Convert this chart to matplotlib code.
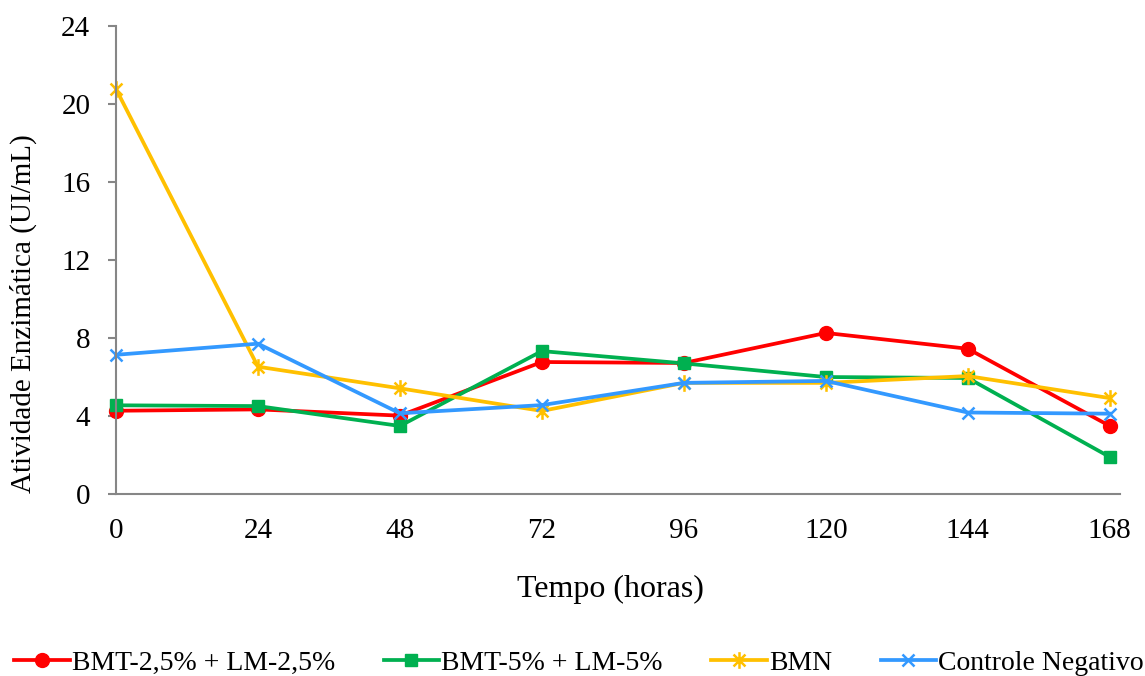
import matplotlib
matplotlib.use("Agg")
import matplotlib.pyplot as plt
from matplotlib.path import Path

# time points (hours) and enzyme activity (UI/mL) per treatment
horas = [0, 24, 48, 72, 96, 120, 144, 168]
bmt_25 = [4.27, 4.34, 4.02, 6.77, 6.72, 8.26, 7.45, 3.49]
bmt_5 = [4.55, 4.51, 3.49, 7.33, 6.70, 6.00, 5.95, 1.90]
bmn = [20.77, 6.53, 5.42, 4.26, 5.70, 5.70, 6.05, 4.92]
controle = [7.14, 7.71, 4.14, 4.56, 5.70, 5.80, 4.18, 4.12]

nomes = ["BMT-2,5% + LM-2,5%", "BMT-5% + LM-5%", "BMN", "Controle Negativo"]
yticks = [0, 4, 8, 12, 16, 20, 24]

plt.rcParams['font.family'] = ['Liberation Serif', 'DejaVu Serif']

# star marker: an x with a vertical bar through it
star = Path([(-0.5, -0.5), (0.5, 0.5), (-0.5, 0.5), (0.5, -0.5), (0, -0.7), (0, 0.7)],
            [Path.MOVETO, Path.LINETO, Path.MOVETO, Path.LINETO, Path.MOVETO, Path.LINETO])

fig = plt.figure(figsize=(11.45, 6.76), dpi=100)
ax = fig.add_axes([0.1013, 0.2692, 0.8767, 0.6923])

lw = 2.7
fs = 21
ax.plot(horas, bmt_25, color='#FF0000', lw=lw, marker='o', ms=10, label=nomes[0], clip_on=False)
ax.plot(horas, bmt_5, color='#00B050', lw=lw, marker='s', ms=8.5, label=nomes[1], clip_on=False)
ax.plot(horas, bmn, color='#FFC000', lw=lw, marker=star, ms=12, mfc='none', mew=1.8,
        label=nomes[2], clip_on=False)
ax.plot(horas, controle, color='#3399FF', lw=lw, marker='x', ms=9, mew=1.8,
        label=nomes[3], clip_on=False)

ax.set_xlim(0, 169.7)
ax.set_ylim(0, 24)
ax.set_xticks(horas)
ax.set_yticks(yticks)

for s in ['top', 'right']:
    ax.spines[s].set_visible(False)
for s in ['left', 'bottom']:
    ax.spines[s].set_color('#868686')
    ax.spines[s].set_linewidth(1.5)

ax.tick_params(axis='y', direction='out', length=6, width=1.5, color='#868686', labelsize=fs, pad=12.5)
ax.tick_params(axis='x', length=0, labelsize=fs, pad=17)

ax.set_xlabel("Tempo (horas)", fontsize=23)
ax.xaxis.set_label_coords(0.493, -0.173)
ax.set_ylabel("Atividade Enzimática (UI/mL)", fontsize=fs)
ax.yaxis.set_label_coords(-0.0787, 0.385)

fig.legend(loc='center', bbox_to_anchor=(0.5057, 0.019), ncol=4, frameon=False,
           fontsize=20, handlelength=2.0, handletextpad=0.07, columnspacing=1.75,
           borderaxespad=0, borderpad=0)

fig.savefig("out.png", dpi=100)
